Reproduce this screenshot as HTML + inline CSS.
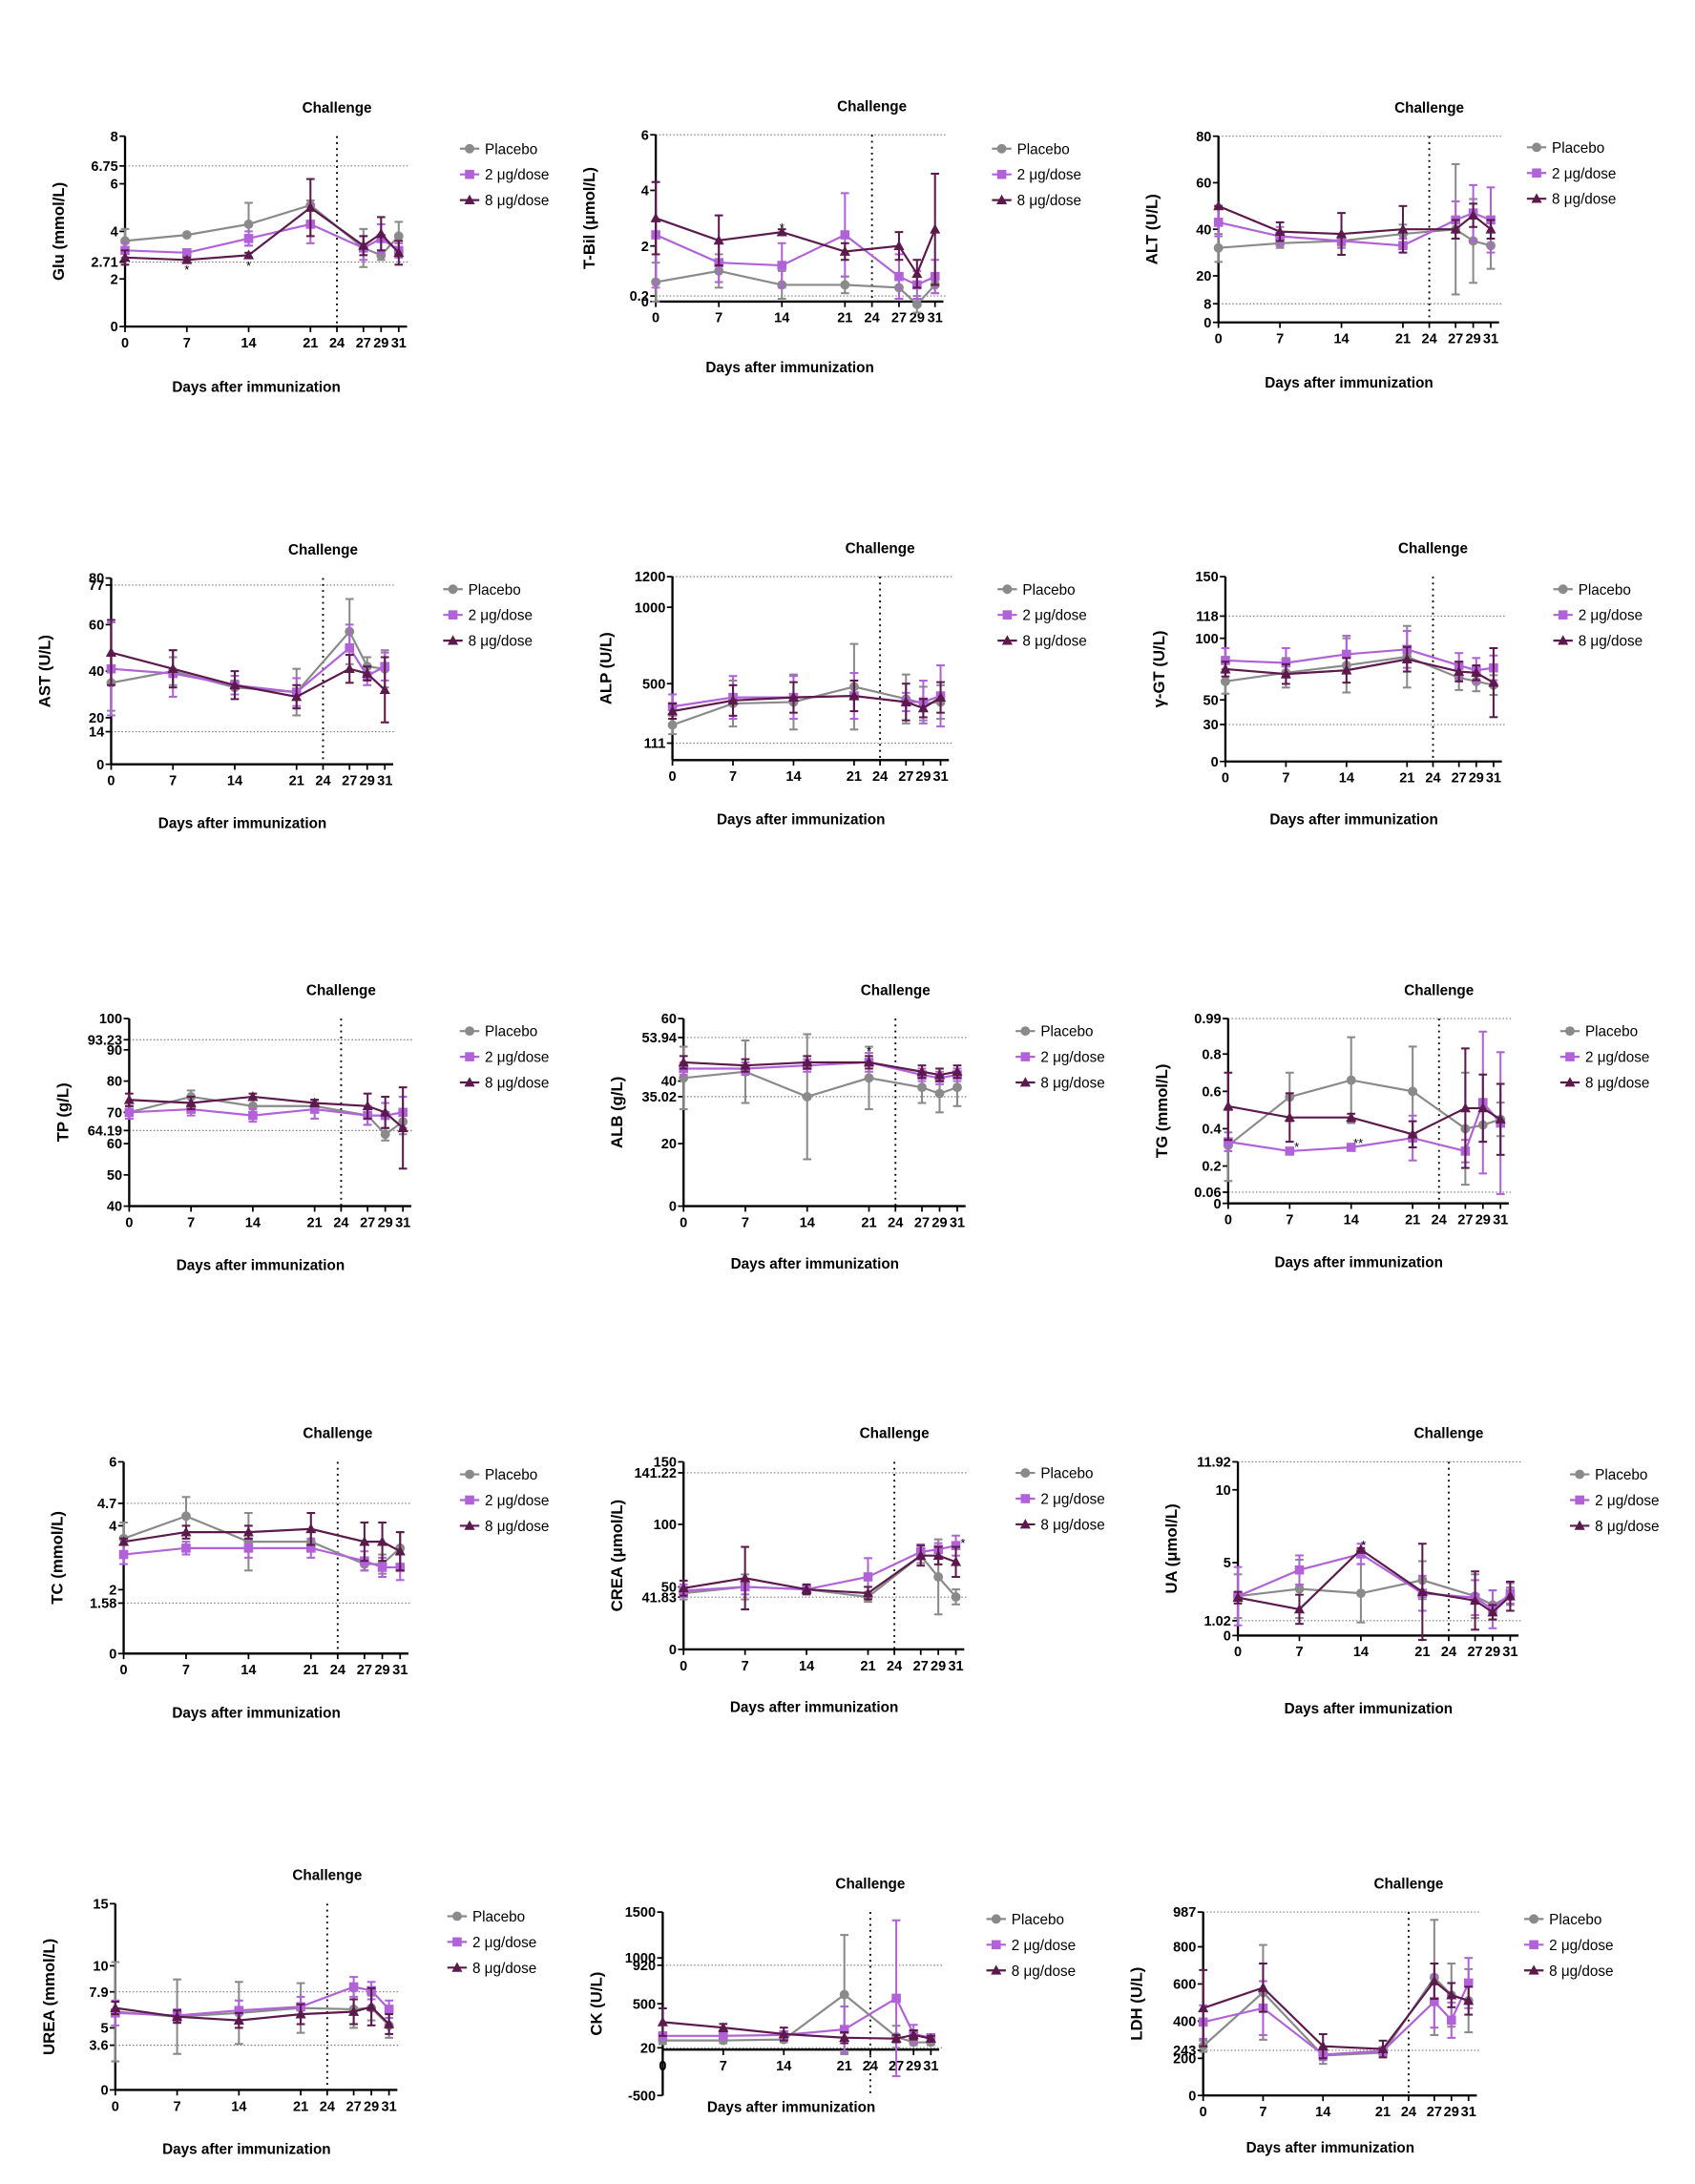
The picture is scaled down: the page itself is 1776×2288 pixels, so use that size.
<!DOCTYPE html>
<html><head><meta charset="utf-8"><style>
html,body{margin:0;padding:0;background:#fff}
svg{display:block}
text{font-family:"Liberation Sans",Arial,sans-serif}
</style></head><body>
<svg id="fig" xmlns="http://www.w3.org/2000/svg" width="1776" height="2288" viewBox="0 0 1220 1571.7"></svg>
<script>
const days=[0,7,14,21,27,29,31];
const xTickLabels=[0,7,14,21,24,27,29,31];
const seriesNames=["Placebo","2 μg/dose","8 μg/dose"];

const glu_p=[3.6,3.85,4.3,5.1,3.3,3.0,3.8], glu_p_e=[0.5,0,0.9,0.2,0.8,0.2,0.6];
const glu_2=[3.2,3.1,3.7,4.3,3.3,3.7,3.2], glu_2_e=[0.3,0.1,0.3,0.8,0.5,0.6,0.3];
const glu_8=[2.9,2.8,3.0,5.0,3.4,3.9,3.1], glu_8_e=[0.3,0.1,0.1,1.2,0.4,0.7,0.5];
const tbil_p=[0.7,1.1,0.6,0.6,0.5,-0.1,0.6], tbil_p_e=[0.7,0.6,0.5,0.3,0.4,0.3,0.3];
const tbil_2=[2.4,1.4,1.3,2.4,0.9,0.6,0.9], tbil_2_e=[1.9,0.7,0.8,1.5,0.8,0.5,0.6];
const tbil_8=[3.0,2.2,2.5,1.8,2.0,1.0,2.6], tbil_8_e=[1.3,0.9,0.1,0.3,0.5,0.5,2.0];
const alt_p=[32,34,35,38,40,35,33], alt_p_e=[6,2,2,4,28,18,10];
const alt_2=[43,37,35,33,44,47,44], alt_2_e=[6,4,3,3,8,12,14];
const alt_8=[50,39,38,40,40,46,40], alt_8_e=[0,4,9,10,4,5,4];
const ast_p=[35,40,33,31,57,42,41], ast_p_e=[12,6,3,10,14,4,8];
const ast_2=[41,39,34,31,50,38,42], ast_2_e=[20,10,4,6,10,4,6];
const ast_8=[48,41,34,29,41,39,32], ast_8_e=[14,8,6,5,6,3,14];
const alp_p=[230,370,380,480,400,370,380], alp_p_e=[60,150,180,280,160,110,110];
const alp_2=[350,410,410,420,380,380,420], alp_2_e=[80,140,140,150,60,140,200];
const alp_8=[320,390,410,420,380,340,410], alp_8_e=[50,100,100,100,120,60,100];
const ggt_p=[65,72,78,85,68,65,62], ggt_p_e=[10,12,22,25,10,8,8];
const ggt_2=[82,80,87,91,78,74,76], ggt_2_e=[10,12,15,15,10,10,10];
const ggt_8=[75,71,74,83,73,72,64], ggt_8_e=[6,8,10,10,8,6,28];
const tp_p=[70,75,72,72,69,63,67], tp_p_e=[2,2,2,2,3,2,4];
const tp_2=[70,71,69,71,69,69,70], tp_2_e=[2,2,2,3,3,4,5];
const tp_8=[74,73,75,73,72,70,65], tp_8_e=[2,2,1,1,4,5,13];
const alb_p=[41,43,35,41,38,36,38], alb_p_e=[10,10,20,10,5,6,6];
const alb_2=[44,44,45,46,42,41,42], alb_2_e=[2,2,2,3,2,2,2];
const alb_8=[46,45,46,46,43,42,43], alb_8_e=[2,2,2,2,2,2,2];
const tg_p=[0.31,0.57,0.66,0.60,0.40,0.42,0.45], tg_p_e=[0.19,0.13,0.23,0.24,0.30,0.09,0.09];
const tg_2=[0.33,0.28,0.30,0.35,0.28,0.54,0.43], tg_2_e=[0.05,0.01,0.01,0.12,0.06,0.38,0.38];
const tg_8=[0.52,0.46,0.46,0.37,0.51,0.51,0.45], tg_8_e=[0.18,0.13,0.02,0.07,0.32,0.18,0.19];
const tc_p=[3.6,4.3,3.5,3.5,2.8,2.8,3.3], tc_p_e=[0.5,0.6,0.9,0.3,0.2,0.3,0.5];
const tc_2=[3.1,3.3,3.3,3.3,2.9,2.7,2.7], tc_2_e=[0.3,0.2,0.3,0.3,0.3,0.3,0.4];
const tc_8=[3.5,3.8,3.8,3.9,3.5,3.5,3.2], tc_8_e=[0.1,0.2,0.2,0.5,0.6,0.6,0.6];
const crea_p=[45,50,48,42,75,58,42], crea_p_e=[5,10,3,4,6,30,6];
const crea_2=[47,50,48,58,78,80,83], crea_2_e=[5,6,3,15,6,5,8];
const crea_8=[49,57,48,45,75,75,70], crea_8_e=[6,25,4,5,8,7,12];
const ua_p=[2.7,3.2,2.9,3.8,2.7,2.1,2.7], ua_p_e=[1.5,2.0,2.0,1.3,1.5,1.0,0.6];
const ua_2=[2.7,4.5,5.6,2.9,2.6,1.8,2.9], ua_2_e=[2.0,1.0,0.7,1.2,1.2,1.3,0.7];
const ua_8=[2.6,1.8,5.9,3.0,2.4,1.6,2.7], ua_8_e=[0.4,1.0,0.1,3.3,2.0,0.5,1.0];
const urea_p=[6.3,5.9,6.2,6.6,6.5,6.6,5.2], urea_p_e=[4,3,2.5,2,1.5,1,1];
const urea_2=[6.2,6.0,6.4,6.7,8.3,8.0,6.5], urea_2_e=[1,0.5,0.8,0.8,0.8,0.7,0.7];
const urea_8=[6.6,5.9,5.6,6.1,6.3,6.7,5.3], urea_8_e=[0.5,0.5,0.6,0.8,1,1.5,0.8];
const ck_p=[100,100,110,600,140,80,80], ck_p_e=[40,30,30,650,120,30,30];
const ck_2=[150,150,160,220,560,170,130], ck_2_e=[40,30,40,250,850,100,30];
const ck_8=[300,240,170,130,120,160,120], ck_8_e=[150,40,70,60,40,50,30];
const ldh_p=[265,555,215,230,635,540,510], ldh_p_e=[30,255,45,20,310,170,170];
const ldh_2=[395,470,220,240,505,405,605], ldh_2_e=[90,145,30,20,140,95,135];
const ldh_8=[470,580,265,250,615,540,510], ldh_8_e=[205,130,65,45,95,65,75];

const panels=[
 {n:"glu",lab:"Glu (mmol/L)",x0:90,x31:287,yb:235,yt:98,min:0,max:8,ticks:[0,2,2.71,4,6,6.75,8],refs:[6.75,2.71],xt:282,lx:337,ly:107,d:[glu_p,glu_p_e,glu_2,glu_2_e,glu_8,glu_8_e],stars:[[7,2.45,"*"],[14,2.6,"*"]]},
 {n:"tbil",lab:"T-Bil (μmol/L)",x0:472,x31:673,yb:217,yt:97,min:0,max:6,ticks:[0,0.2,2,4,6],refs:[6,0.2],xt:268,lx:720,ly:107,d:[tbil_p,tbil_p_e,tbil_2,tbil_2_e,tbil_8,tbil_8_e],stars:[[14,2.7,"*"]]},
 {n:"alt",lab:"ALT (U/L)",x0:877,x31:1073,yb:232,yt:98,min:0,max:80,ticks:[0,8,20,40,60,80],refs:[80,8],xt:279,lx:1105,ly:106,d:[alt_p,alt_p_e,alt_2,alt_2_e,alt_8,alt_8_e],stars:[]},
 {n:"ast",lab:"AST (U/L)",x0:80,x31:277,yb:550,yt:416,min:0,max:80,ticks:[0,14,20,40,60,77,80],refs:[77,14],xt:596,lx:325,ly:424,d:[ast_p,ast_p_e,ast_2,ast_2_e,ast_8,ast_8_e],stars:[]},
 {n:"alp",lab:"ALP (U/L)",x0:484,x31:677,yb:547,yt:415,min:0,max:1200,ticks:[111,500,1000,1200],refs:[1200,111],xt:593,lx:724,ly:424,d:[alp_p,alp_p_e,alp_2,alp_2_e,alp_8,alp_8_e],stars:[]},
 {n:"ggt",lab:"γ-GT (U/L)",x0:882,x31:1075,yb:548,yt:415,min:0,max:150,ticks:[0,30,50,100,118,150],refs:[118,30],xt:593,lx:1124,ly:424,d:[ggt_p,ggt_p_e,ggt_2,ggt_2_e,ggt_8,ggt_8_e],stars:[]},
 {n:"tp",lab:"TP (g/L)",x0:93,x31:290,yb:868,yt:733,min:40,max:100,ticks:[40,50,60,64.19,70,80,90,93.23,100],refs:[93.23,64.19],xt:914,lx:337,ly:742,d:[tp_p,tp_p_e,tp_2,tp_2_e,tp_8,tp_8_e],stars:[]},
 {n:"alb",lab:"ALB (g/L)",x0:492,x31:689,yb:868,yt:733,min:0,max:60,ticks:[0,20,35.02,40,53.94,60],refs:[53.94,35.02],xt:913,lx:737,ly:742,d:[alb_p,alb_p_e,alb_2,alb_2_e,alb_8,alb_8_e],stars:[[21,50,"*"]]},
 {n:"tg",lab:"TG (mmol/L)",x0:884,x31:1080,yb:866,yt:733,min:0,max:0.99,ticks:[0,0.06,0.2,0.4,0.6,0.8,0.99],refs:[0.99,0.06],xt:912,lx:1129,ly:742,d:[tg_p,tg_p_e,tg_2,tg_2_e,tg_8,tg_8_e],stars:[[7.8,0.31,"*"],[14.8,0.33,"**"]]},
 {n:"tc",lab:"TC (mmol/L)",x0:89,x31:288,yb:1190,yt:1052,min:0,max:6,ticks:[0,1.58,2,4,4.7,6],refs:[4.7,1.58],xt:1236,lx:337,ly:1061,d:[tc_p,tc_p_e,tc_2,tc_2_e,tc_8,tc_8_e],stars:[]},
 {n:"crea",lab:"CREA (μmol/L)",x0:492,x31:688,yb:1187,yt:1052,min:0,max:150,ticks:[0,41.83,50,100,141.22,150],refs:[141.22,41.83],xt:1232,lx:737,ly:1060,d:[crea_p,crea_p_e,crea_2,crea_2_e,crea_8,crea_8_e],stars:[[31.8,86,"*"]]},
 {n:"ua",lab:"UA (μmol/L)",x0:891,x31:1087,yb:1177,yt:1052,min:0,max:11.92,ticks:[0,1.02,5,10,11.92],refs:[11.92,1.02],xt:1233,lx:1136,ly:1061,d:[ua_p,ua_p_e,ua_2,ua_2_e,ua_8,ua_8_e],stars:[[14.3,6.3,"*"]]},
 {n:"urea",lab:"UREA (mmol/L)",x0:83,x31:280,yb:1504,yt:1370,min:0,max:15,ticks:[0,3.6,5,7.9,10,15],refs:[7.9,3.6],xt:1550,lx:328,ly:1379,d:[urea_p,urea_p_e,urea_2,urea_2_e,urea_8,urea_8_e],stars:[]},
 {n:"ck",lab:"CK (U/L)",x0:477,x31:670,yb:1508,yt:1376,min:-500,max:1500,ticks:[-500,20,500,920,1000,1500],refs:[920,20],xt:1520,lx:716,ly:1381,d:[ck_p,ck_p_e,ck_2,ck_2_e,ck_8,ck_8_e],stars:[],xAt:0},
 {n:"ldh",lab:"LDH (U/L)",x0:866,x31:1057,yb:1508,yt:1376,min:0,max:987,ticks:[0,200,243,400,600,800,987],refs:[987,243],xt:1549,lx:1103,ly:1381,d:[ldh_p,ldh_p_e,ldh_2,ldh_2_e,ldh_8,ldh_8_e],stars:[]}
];
const colors=["#8a8a8a","#b162d8","#5c1a4c"];
const shapes=["circle","square","triangle"];
const NS="http://www.w3.org/2000/svg";
const svg=document.getElementById('fig');
function mk(tag,attrs,parent,txt){const e=document.createElementNS(NS,tag);for(const k in attrs)e.setAttribute(k,attrs[k]);if(txt!==undefined)e.textContent=txt;(parent||svg).appendChild(e);return e;}
function marker(g,shape,x,y,c){
  let m;
  if(shape==="circle")m=mk('circle',{cx:x,cy:y,r:3.4,fill:c},g);
  else if(shape==="square")m=mk('rect',{x:x-3.3,y:y-3.3,width:6.6,height:6.6,fill:c},g);
  else m=mk('polygon',{points:`${x},${y-4} ${x-3.8},${y+3} ${x+3.8},${y+3}`,fill:c},g);
  return m;
}
panels.forEach(p=>{
  const g=mk('g',{});
  
  
  const X=d=>p.x0+(p.x31-p.x0)*d/31;
  const Y=v=>p.yb-(p.yb-p.yt)*(v-p.min)/(p.max-p.min);
  const xAxisY=p.xAt!==undefined?Y(p.xAt):p.yb;
  // refs
  p.refs.forEach(r=>{const l=mk('line',{x1:p.x0,x2:p.x31+8,y1:Y(r),y2:Y(r),stroke:"#777","stroke-width":0.8,"stroke-dasharray":"1 1.5"},g);
    
    });
  // challenge line
  const cl=mk('line',{x1:X(24),x2:X(24),y1:p.yt,y2:p.yb,stroke:"#000","stroke-width":1.3,"stroke-dasharray":"1.3 3"},g);
  
  
  const ct=mk('text',{x:X(24),y:p.yt-17,"text-anchor":"middle","font-size":10.5,"font-weight":"bold"},g,"Challenge");
  
  
  // axes
  const ya=mk('line',{x1:p.x0,x2:p.x0,y1:p.yb,y2:p.yt,stroke:"#000","stroke-width":1.6},g);
  
  
  const xa=mk('line',{x1:p.x0,x2:p.x31+6,y1:xAxisY,y2:xAxisY,stroke:"#000","stroke-width":1.6},g);
  
  
  p.ticks.forEach(t=>{mk('line',{x1:p.x0-4,x2:p.x0,y1:Y(t),y2:Y(t),stroke:"#000","stroke-width":1.2},g);
    const tl=mk('text',{x:p.x0-5,y:Y(t)+3.5,"text-anchor":"end","font-size":10,"font-weight":"bold"},g,String(t));
    
    });
  xTickLabels.forEach(d=>{mk('line',{x1:X(d),x2:X(d),y1:xAxisY,y2:xAxisY+4,stroke:"#000","stroke-width":1.2},g);
    const tl=mk('text',{x:X(d),y:xAxisY+15,"text-anchor":"middle","font-size":10,"font-weight":"bold"},g,String(d));
    
    });
  const yl=mk('text',{transform:`translate(${p.x0-44},${(p.yb+p.yt)/2}) rotate(-90)`,"text-anchor":"middle","font-size":11.5,"font-weight":"bold"},g,p.lab);
  
  
  const xl=mk('text',{x:(p.x0+p.x31)/2-4,y:p.xt,"text-anchor":"middle","font-size":10.5,"font-weight":"bold"},g,"Days after immunization");
  
  
  // series
  for(let s=0;s<3;s++){
    const vals=p.d[2*s], errs=p.d[2*s+1], c=colors[s];
    const sg=mk('g',{},g);
    
    
    days.forEach((d,i)=>{const x=X(d),y1=Y(vals[i]-errs[i]),y2=Y(vals[i]+errs[i]);
      mk('line',{x1:x,x2:x,y1:y1,y2:y2,stroke:c,"stroke-width":1.4},sg);
      mk('line',{x1:x-3,x2:x+3,y1:y1,y2:y1,stroke:c,"stroke-width":1.4},sg);
      mk('line',{x1:x-3,x2:x+3,y1:y2,y2:y2,stroke:c,"stroke-width":1.4},sg);});
    mk('polyline',{points:days.map((d,i)=>X(d)+","+Y(vals[i])).join(" "),fill:"none",stroke:c,"stroke-width":1.5},sg);
    days.forEach((d,i)=>{const m=marker(sg,shapes[s],X(d),Y(vals[i]),c);
      
      });
    // legend
    const lg=mk('g',{},g);
    
    
    const ly=p.ly+s*18.5;
    mk('line',{x1:p.lx-6,x2:p.lx+8,y1:ly,y2:ly,stroke:c,"stroke-width":1.5},lg);
    marker(lg,shapes[s],p.lx+1,ly,c);
    mk('text',{x:p.lx+12,y:ly+3.8,"font-size":10.5},lg,seriesNames[s]);
  }
  p.stars.forEach(st=>{mk('text',{x:X(st[0]),y:Y(st[1])+4,"text-anchor":"middle","font-size":9},g,st[2]);});
});
</script>
</body></html>
